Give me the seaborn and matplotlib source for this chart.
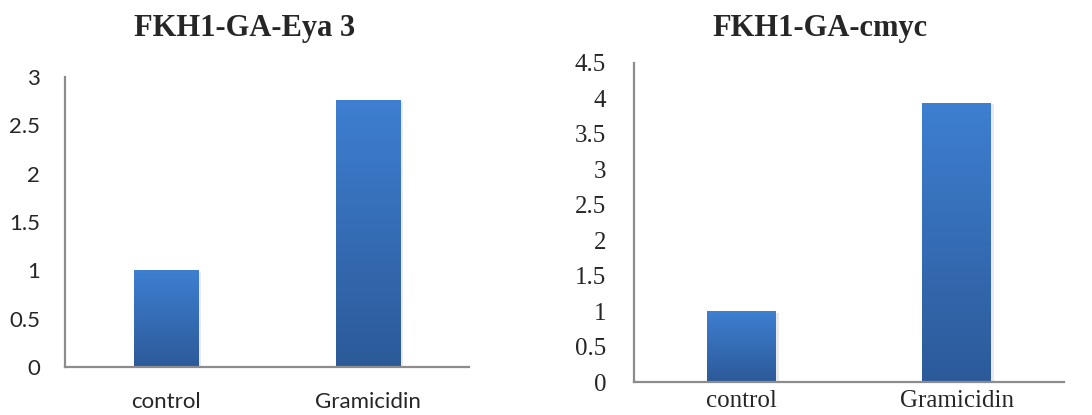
import numpy as np
import pandas as pd
import seaborn as sns
import matplotlib.pyplot as plt
import matplotlib.patheffects as pe
from matplotlib.colors import LinearSegmentedColormap

# datos
categorias = ['control', 'Gramicidin']
eya3 = [1.0, 2.76]
cmyc = [1.0, 3.94]
titulos = ['FKH1-GA-Eya 3', 'FKH1-GA-cmyc']
ticks_eya3 = [0, 0.5, 1, 1.5, 2, 2.5, 3]
ticks_cmyc = [0, 0.5, 1, 1.5, 2, 2.5, 3, 3.5, 4, 4.5]

# degradado azul de las barras (abajo oscuro, arriba claro)
cmap_barra = LinearSegmentedColormap.from_list('barra', ['#2C5A99', '#3E7FD1'])
gris = '#8C8C8C'

sns.set_style('white')


def dibujar(ax, valores, ticks, titulo, fuente_ticks, tam_ticks, pad_y, pad_x):
    df = pd.DataFrame({'cat': categorias, 'val': valores})
    sns.barplot(data=df, x='cat', y='val', color='#3570BC', width=0.32, ax=ax)
    ax.set_xlim(-0.5, 1.5)
    ax.set_ylim(0, ticks[-1])
    # sombra suave y degradado en cada barra
    grad = np.linspace(0, 1, 256).reshape(-1, 1)
    for p in ax.patches:
        x0, y0 = p.get_x(), p.get_y()
        x1, y1 = x0 + p.get_width(), y0 + p.get_height()
        p.set_linewidth(0)
        p.set_path_effects([pe.SimplePatchShadow(offset=(2, -1), shadow_rgbFace='#999999', alpha=0.2),
                            pe.Normal()])
        im = ax.imshow(grad, cmap=cmap_barra, origin='lower', aspect='auto',
                       extent=[x0, x1, y0, y1], zorder=2)
        im.set_clip_path(p)
    ax.set_xlim(-0.5, 1.5)
    ax.set_ylim(0, ticks[-1])
    ax.set_yticks(ticks)
    ax.set_yticklabels([f'{t:g}' for t in ticks], family=fuente_ticks, fontsize=tam_ticks)
    ax.set_xticks([0, 1])
    ax.set_xticklabels(categorias, family=fuente_ticks, fontsize=tam_ticks)
    ax.tick_params(axis='y', length=0, pad=pad_y)
    ax.tick_params(axis='x', length=0, pad=pad_x)
    ax.set_xlabel('')
    ax.set_ylabel('')
    for lado in ['top', 'right']:
        ax.spines[lado].set_visible(False)
    for lado in ['left', 'bottom']:
        ax.spines[lado].set_color(gris)
        ax.spines[lado].set_linewidth(1.6)


fig = plt.figure(figsize=(10.92, 4.15), dpi=100)
ax1 = fig.add_axes([0.0595, 0.1157, 0.370, 0.6988])
ax2 = fig.add_axes([0.5806, 0.0795, 0.3938, 0.7687])

dibujar(ax1, eya3, ticks_eya3, titulos[0], 'Lato', 16, 18, 18)
dibujar(ax2, cmyc, ticks_cmyc, titulos[1], 'Liberation Serif', 18, 20, 6)

fig.text(0.224, 0.932, titulos[0], family='Liberation Serif', fontweight='bold',
         fontsize=22, ha='center', va='center')
fig.text(0.751, 0.932, titulos[1], family='Liberation Serif', fontweight='bold',
         fontsize=22, ha='center', va='center')

plt.savefig('out.png', dpi=100)
